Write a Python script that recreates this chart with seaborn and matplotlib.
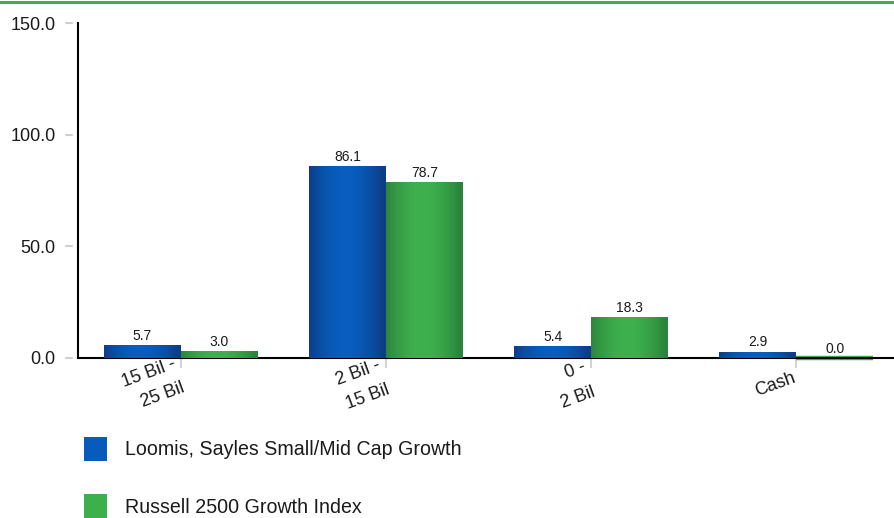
import numpy as np
import pandas as pd
import matplotlib
matplotlib.use("Agg")
import matplotlib.pyplot as plt
import matplotlib.transforms as mtransforms
from matplotlib.patches import Patch
from matplotlib.lines import Line2D
import seaborn as sns

# --- data -------------------------------------------------------------
categories = ["15 Bil -\n25 Bil", "2 Bil -\n15 Bil", "0 -\n2 Bil", "Cash"]
series = ["Loomis, Sayles Small/Mid Cap Growth", "Russell 2500 Growth Index"]
fund_values = [5.7, 86.1, 5.4, 2.9]
index_values = [3.0, 78.7, 18.3, 0.0]
y_ticks = [0.0, 50.0, 100.0, 150.0]

# --- styling ----------------------------------------------------------
blue_solid = "#065bbd"
green_solid = "#3cb04a"
blue_edge, blue_mid = np.array([12, 62, 135]) / 255, np.array([8, 94, 192]) / 255
green_edge, green_mid = np.array([44, 132, 60]) / 255, np.array([62, 177, 78]) / 255
text_color = "#1a1a1a"

sns.set_theme(style="white")
plt.rcParams["font.family"] = ["Liberation Sans", "DejaVu Sans"]

W, H = 894, 518
AXW = 821
fig = plt.figure(figsize=(W / 100, H / 100), dpi=100)
ax = fig.add_axes([78 / W, 1 - 358 / H, AXW / W, 335 / H])

df = pd.DataFrame({
    "category": categories * 2,
    "series": [series[0]] * len(categories) + [series[1]] * len(categories),
    "value": fund_values + index_values,
})

sns.barplot(data=df, x="category", y="value", hue="series",
            palette=[blue_solid, green_solid], width=0.75, gap=0,
            saturation=1, legend=False, ax=ax, errorbar=None)

# cylindrical shading on every bar
xs = np.linspace(0, 1, 200)
profile = np.sin(np.pi * np.clip(xs * 1.05, 0, 1)) ** 0.9
for container, (edge, mid) in zip(ax.containers,
                                  [(blue_edge, blue_mid), (green_edge, green_mid)]):
    for bar in container:
        x0, y0 = bar.get_x(), bar.get_y()
        w, h = bar.get_width(), bar.get_height()
        grad = edge[None, :] + (mid - edge)[None, :] * profile[:, None]
        img = ax.imshow(grad[None, :, :], extent=[x0, x0 + w, y0, y0 + h],
                        aspect="auto", interpolation="bilinear", zorder=2)
        img.set_clip_path(bar)
        bar.set_facecolor("none")
        if h == 0:
            # a zero-height bar still shows as a thin line on the baseline
            bar.set_edgecolor(tuple(mid))
            bar.set_linewidth(3.2)
            bar.set_clip_on(False)
            bar.set_zorder(1)
        else:
            bar.set_linewidth(0)
    ax.bar_label(container, fmt="%.1f", padding=1.5, fontsize=10, color=text_color)

ax.set_xlim(-0.5, len(categories) - 0.5)
ax.set_ylim(0, 150)

# axes frame
for s in ["top", "right"]:
    ax.spines[s].set_visible(False)
for s in ["left", "bottom"]:
    ax.spines[s].set_color("black")
    ax.spines[s].set_linewidth(1.5)
    ax.spines[s].set_zorder(1.5)

ax.set_xlabel("")
ax.set_ylabel("")

ax.set_yticks(y_ticks)
ax.set_yticklabels([f"{v:.1f}" for v in y_ticks], fontsize=13, color=text_color)
ax.tick_params(axis="y", length=0, pad=16)
ytr = mtransforms.blended_transform_factory(ax.transAxes, ax.transData)
for v in y_ticks:
    ax.add_line(Line2D([-12 / AXW, -6 / AXW], [v, v], transform=ytr,
                       color="#cfcfcf", lw=1.5, clip_on=False))

ax.tick_params(axis="x", length=7.5, width=1.5, color="#d4d4d4", direction="out",
               bottom=True, pad=12)
ax.set_xticks(range(len(categories)))
ax.set_xticklabels(categories, rotation=20, ha="right", va="center",
                   fontsize=13, color=text_color,
                   linespacing=1.7, multialignment="right")
for lbl in ax.get_xticklabels():
    dx = 6 if "\n" in lbl.get_text() else 1
    lbl.set_transform(lbl.get_transform()
                      + mtransforms.ScaledTranslation(dx / 100, 0, fig.dpi_scale_trans))

# legend below the plot
handles = [Patch(facecolor=blue_solid, edgecolor="none"),
           Patch(facecolor=green_solid, edgecolor="none")]
fig.legend(handles, series, loc="upper left", bbox_to_anchor=(84 / W, 1 - 437 / H),
           frameon=False, fontsize=14.15, handlelength=1.17, handleheight=1.5,
           handletextpad=0.9, labelspacing=1.7, borderpad=0, borderaxespad=0,
           labelcolor=text_color)

# green rule along the top edge
fig.add_artist(Line2D([0, 1], [1 - 1.5 / H, 1 - 1.5 / H], transform=fig.transFigure,
                      color="#3cb04a", lw=2.2))

fig.savefig("out.png", dpi=100)
